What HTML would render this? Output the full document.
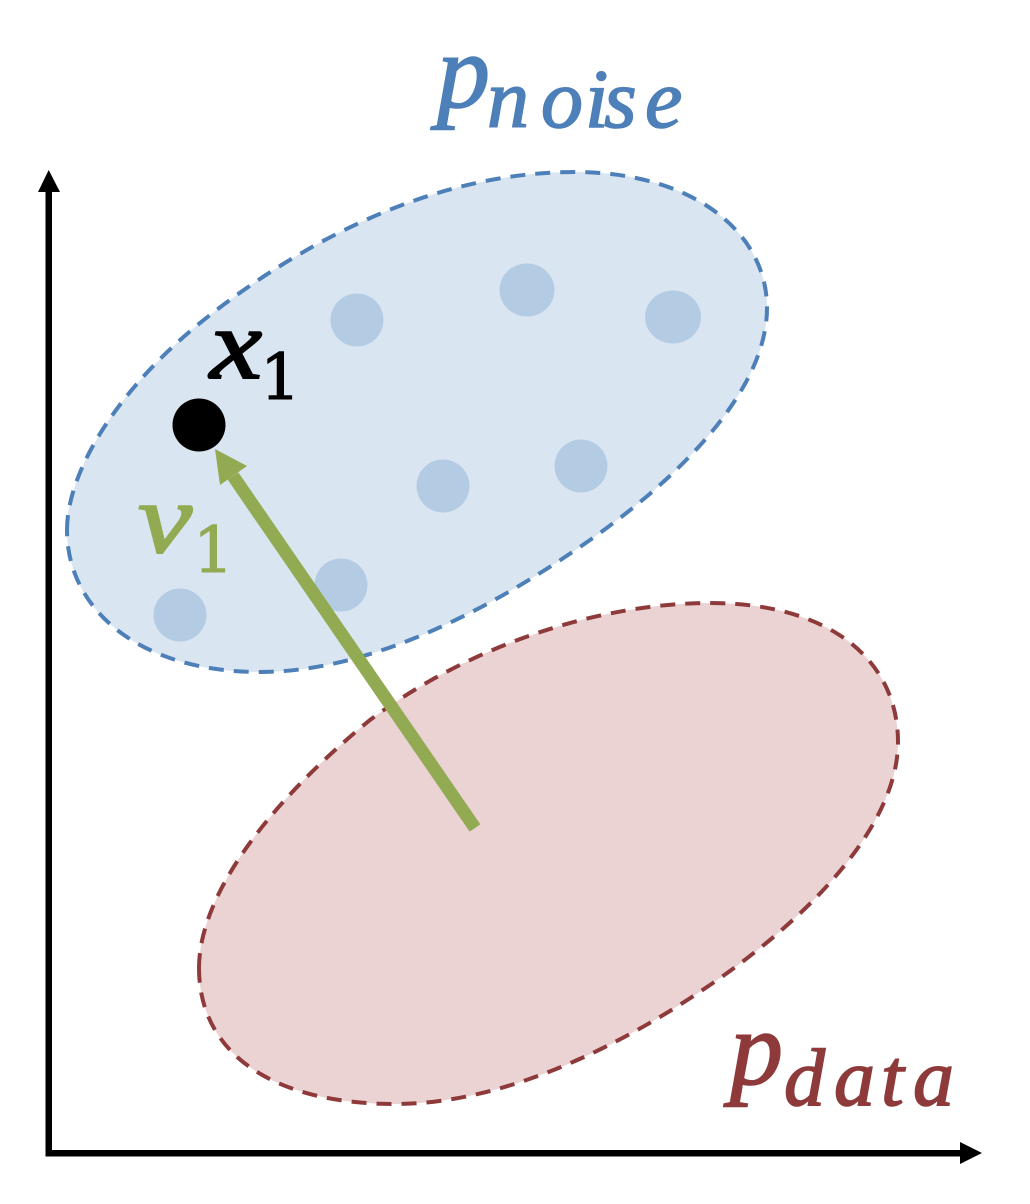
<!DOCTYPE html>
<html>
<head>
<meta charset="utf-8">
<style>
html,body{margin:0;padding:0;background:#fff;width:1030px;height:1204px;overflow:hidden}
svg{display:block}
text{font-family:"Liberation Serif","DejaVu Serif",serif;font-style:italic}
text.d{font-family:"DejaVu Serif","Liberation Serif",serif;font-style:normal}
</style>
</head>
<body>
<svg width="1030" height="1204" viewBox="0 0 1030 1204" xmlns="http://www.w3.org/2000/svg">
<path d="M67 530 C67 470 120 385 210 315 C300 245 430 172 575 172 C690 172 767 230 767 308 C767 385 690 470 590 540 C490 610 370 672 260 672 C140 672 67 610 67 530 Z" fill="#d9e5f1" stroke="#4d7fb8" stroke-width="4" stroke-dasharray="15 10"/>
<path d="M199 968 C199 900 260 810 370 720 C470 645 600 603 710 603 C830 603 898 660 898 742 C898 820 820 910 710 985 C600 1060 490 1104 395 1104 C275 1104 199 1055 199 968 Z" fill="#ebd3d4" stroke="#8e3a3a" stroke-width="4" stroke-dasharray="15 10"/>
<g fill="#b4cbe4">
<circle cx="357" cy="320" r="26.5"/>
<ellipse cx="527" cy="290" rx="27.5" ry="26.5"/>
<ellipse cx="673" cy="317" rx="28" ry="26.5"/>
<circle cx="443" cy="486" r="26.5"/>
<circle cx="581" cy="466" r="26.5"/>
<circle cx="341" cy="585" r="26.5"/>
<circle cx="180" cy="615" r="26.5"/>
</g>
<circle cx="199" cy="425" r="26.5" fill="#000"/>
<line x1="475" y1="828" x2="233" y2="476" stroke="#92aa52" stroke-width="13"/>
<polygon points="215,449 247,466 220,485" fill="#92aa52"/>
<rect x="45.5" y="190" width="6.5" height="966" fill="#000"/>
<polygon points="48.7,170 60,192 38,192" fill="#000"/>
<rect x="45.5" y="1150" width="916" height="6.5" fill="#000"/>
<polygon points="982,1153 960,1142 960,1164" fill="#000"/>
<g fill="#4d7fb8" stroke="#4d7fb8" stroke-width="1.6">
<text x="437" y="107" font-size="106">p</text>
<text x="487 541 585 604 645" y="127" font-size="84">noise</text>
</g>
<g fill="#8e3a3a" stroke="#8e3a3a" stroke-width="1.6">
<text x="730" y="1084" font-size="106">p</text>
<text x="784 834 881 913" y="1105" font-size="82">data</text>
</g>
<text x="210" y="378" font-size="100" fill="#000" stroke="#000" stroke-width="2" textLength="52" lengthAdjust="spacingAndGlyphs">x</text>
<text class="d" x="260" y="399" font-size="64" fill="#000" stroke="#000" stroke-width="1">1</text>
<text x="138" y="552" font-size="100" fill="#92aa52" stroke="#92aa52" stroke-width="2" textLength="54" lengthAdjust="spacingAndGlyphs">v</text>
<text class="d" x="193" y="572" font-size="64" fill="#92aa52" stroke="#92aa52" stroke-width="1">1</text>
</svg>
</body>
</html>
